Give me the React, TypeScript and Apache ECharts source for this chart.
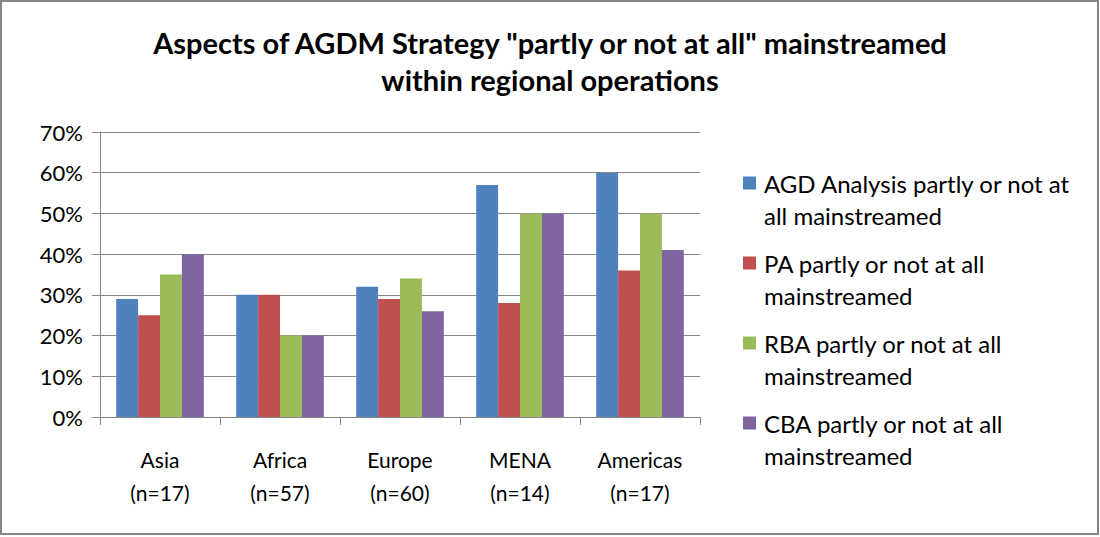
import React, { useEffect, useRef } from "react";
import * as echarts from "echarts";

const categories = ["Asia\n(n=17)", "Africa\n(n=57)", "Europe\n(n=60)", "MENA\n(n=14)", "Americas\n(n=17)"];
const seriesNames = [
  "AGD Analysis partly or not at all mainstreamed",
  "PA partly or not at all mainstreamed",
  "RBA partly or not at all mainstreamed",
  "CBA partly or not at all mainstreamed",
];
const legendLabels = [
  "AGD Analysis partly or not at\nall mainstreamed",
  "PA partly or not at all\nmainstreamed",
  "RBA partly or not at all\nmainstreamed",
  "CBA partly or not at all\nmainstreamed",
];
const agdValues = [0.29, 0.30, 0.32, 0.57, 0.60];
const paValues = [0.25, 0.30, 0.29, 0.28, 0.36];
const rbaValues = [0.35, 0.20, 0.34, 0.50, 0.50];
const cbaValues = [0.40, 0.20, 0.26, 0.50, 0.41];
const colors = ["#4F81BD", "#C0504D", "#9BBB59", "#8064A2"];
const titleText = 'Aspects of AGDM Strategy "partly or not at all" mainstreamed\nwithin regional operations';

export default function App() {
  const ref = useRef<HTMLDivElement>(null);
  useEffect(() => {
    if (!ref.current) return;
    const chart = echarts.init(ref.current, null, { renderer: "svg" });
    const font = "Lato";
    const allValues = [agdValues, paValues, rbaValues, cbaValues];
    chart.setOption({
      animation: false,
      backgroundColor: "#ffffff",
      title: {
        text: titleText,
        left: "center",
        top: 19,
        textStyle: { fontFamily: font, fontSize: 29, fontWeight: "bold", color: "#000", lineHeight: 37 },
      },
      legend: {
        orient: "vertical",
        left: 738,
        top: 162,
        itemWidth: 13,
        itemHeight: 45,
        itemGap: 16,
        icon: "path://M0,0H13V13H0Z M0,45L0.01,45",
        data: seriesNames,
        formatter: (name: string) => legendLabels[seriesNames.indexOf(name)],
        textStyle: { fontFamily: font, fontSize: 24, color: "#000", lineHeight: 32, padding: [0, 0, 0, 3] },
      },
      grid: { left: 100, right: 400, top: 132, bottom: 120, containLabel: false },
      xAxis: {
        type: "category",
        data: categories,
        axisLine: { lineStyle: { color: "#868686", width: 1 } },
        axisTick: { show: true, length: 8, lineStyle: { color: "#868686" } },
        axisLabel: { fontFamily: font, fontSize: 21, color: "#000", lineHeight: 33, margin: 26 },
      },
      yAxis: {
        type: "value",
        min: 0,
        max: 0.7,
        interval: 0.1,
        axisLine: { show: true, lineStyle: { color: "#868686" } },
        axisTick: { show: true, length: 8, lineStyle: { color: "#868686" } },
        splitLine: { lineStyle: { color: "#868686", width: 1 } },
        axisLabel: {
          fontFamily: font,
          fontSize: 22,
          color: "#000",
          margin: 17,
          formatter: (v: number) => Math.round(v * 100) + "%",
        },
      },
      series: seriesNames.map((name, i) => ({
        name,
        type: "bar",
        data: allValues[i],
        barGap: "0%",
        barCategoryGap: "27%",
        itemStyle: { color: colors[i] },
      })),
      graphic: [
        {
          type: "rect",
          shape: { x: 1, y: 1, width: 1097, height: 533 },
          style: { fill: "none", stroke: "#868686", lineWidth: 2 },
          silent: true,
        },
      ],
    });
    return () => chart.dispose();
  }, []);
  return <div ref={ref} style={{ position: "absolute", left: 0, top: 0, width: 1100, height: 537 }} />;
}
